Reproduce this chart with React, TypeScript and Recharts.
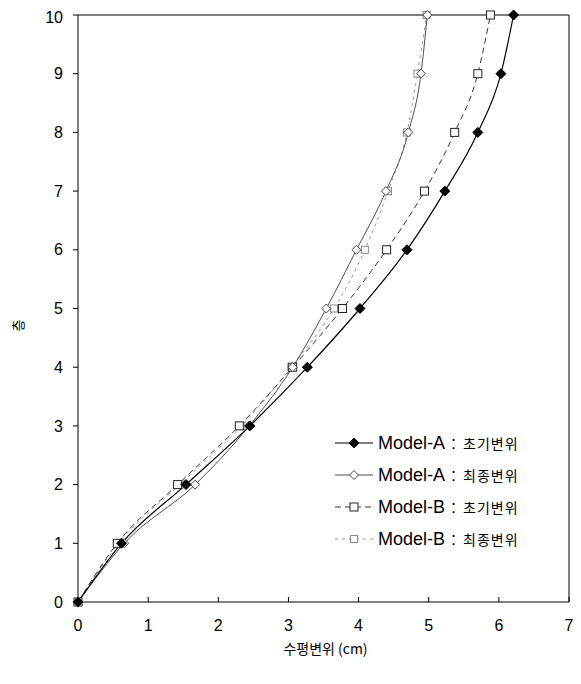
import { Legend, Line, LineChart, ReferenceLine, XAxis, YAxis } from "recharts"

// 층 (floor) levels and horizontal displacement (cm) per series
const LEVELS: number[] = [0, 1, 2, 3, 4, 5, 6, 7, 8, 9, 10]
const X_TICKS: number[] = [0, 1, 2, 3, 4, 5, 6, 7]

const A_INITIAL: number[] = [0, 0.62, 1.54, 2.45, 3.27, 4.02, 4.69, 5.23, 5.7, 6.03, 6.21]
const A_FINAL: number[] = [0, 0.66, 1.67, 2.44, 3.06, 3.54, 3.97, 4.39, 4.71, 4.89, 4.98]
const B_INITIAL: number[] = [0, 0.56, 1.42, 2.3, 3.06, 3.77, 4.4, 4.94, 5.37, 5.7, 5.88]
const B_FINAL: number[] = [0, 0.58, 1.45, 2.33, 3.04, 3.65, 4.09, 4.42, 4.69, 4.84, 4.97]

const SERIES_NAMES: string[] = [
	"Model-A : 초기변위",
	"Model-A : 최종변위",
	"Model-B : 초기변위",
	"Model-B : 최종변위",
]

type Marker = "filledDiamond" | "openDiamond" | "openSquare" | "graySquare"

interface ISeries {
	key: string
	name: string
	values: number[]
	stroke: string
	width: number
	dash?: string
	marker: Marker
}

const SERIES: ISeries[] = [
	{ key: "aInit", name: SERIES_NAMES[0], values: A_INITIAL, stroke: "#000", width: 1.2, marker: "filledDiamond" },
	{ key: "aFinal", name: SERIES_NAMES[1], values: A_FINAL, stroke: "#3a3a3a", width: 0.9, marker: "openDiamond" },
	{ key: "bInit", name: SERIES_NAMES[2], values: B_INITIAL, stroke: "#222", width: 0.9, dash: "6 4", marker: "openSquare" },
	{ key: "bFinal", name: SERIES_NAMES[3], values: B_FINAL, stroke: "#8a8a8a", width: 0.9, dash: "3 4", marker: "graySquare" },
]

const toPoints = (xs: number[]) => xs.map((x, i) => ({ x, y: LEVELS[i] }))

const FONT = "'Liberation Sans', Arial, 'Noto Sans CJK KR', sans-serif"
const KFONT = "'Noto Sans CJK KR', 'Liberation Sans', sans-serif"

const drawMarker = (kind: Marker, cx: number, cy: number, key?: string | number) => {
	switch (kind) {
		case "filledDiamond":
			return <polygon key={key} points={`${cx},${cy - 5} ${cx + 5},${cy} ${cx},${cy + 5} ${cx - 5},${cy}`} fill="#000" stroke="#000" />
		case "openDiamond":
			return <polygon key={key} points={`${cx},${cy - 4.5} ${cx + 4.5},${cy} ${cx},${cy + 4.5} ${cx - 4.5},${cy}`} fill="#fff" stroke="#444" />
		case "openSquare":
			return <rect key={key} x={cx - 4} y={cy - 4} width={8} height={8} fill="#fff" stroke="#222" />
		default:
			return <rect key={key} x={cx - 3.5} y={cy - 3.5} width={7} height={7} fill="#fff" stroke="#8a8a8a" />
	}
}

const LegendBox = () => (
	<svg width={240} height={130} style={{ display: "block" }}>
		{SERIES.map((s, i) => {
			const y = 15 + i * 32
			const [model, kind] = s.name.split(" : ")
			return (
				<g key={s.key}>
					<line x1={9} x2={47} y1={y} y2={y} stroke={s.stroke} strokeWidth={s.width} strokeDasharray={s.dash} />
					{drawMarker(s.marker, 28, y)}
					<text x={52} y={y} dominantBaseline="central" fontFamily={FONT} fontSize={18} fill="#000">
						{model}
						<tspan dx={6}>:</tspan>
						<tspan dx={7} fontFamily={KFONT} fontSize={14} letterSpacing={1}>{kind}</tspan>
					</text>
				</g>
			)
		})}
	</svg>
)

const App = () => {
	return (
		<LineChart width={573} height={676} margin={{ top: 7, right: 12, left: 10, bottom: 52 }}>
			<XAxis
				type="number"
				dataKey="x"
				domain={[0, 7]}
				ticks={X_TICKS}
				allowDecimals={false}
				height={30}
				tickSize={-5}
				tickMargin={23}
				stroke="#000"
				tick={{ fill: "#000", fontSize: 16, fontFamily: FONT }}
				label={{
					content: ({ viewBox }: any) => (
						<text x={viewBox.x + viewBox.width / 2 + 2} y={640} textAnchor="middle" dominantBaseline="central" fontFamily={KFONT} fontSize={14} fill="#000">
							수평변위  (cm)
						</text>
					),
				}}
			/>
			<YAxis
				type="number"
				dataKey="y"
				domain={[0, 10]}
				ticks={LEVELS}
				width={60}
				tickSize={5}
				tickMargin={10}
				stroke="#000"
				tick={{ fill: "#000", fontSize: 16, fontFamily: FONT }}
				label={{
					content: ({ viewBox }: any) => {
						const cy = viewBox.y + viewBox.height / 2 + 17
						return (
							<text x={9} y={cy} textAnchor="middle" dominantBaseline="central" transform={`rotate(-90 9 ${cy})`} fontFamily={KFONT} fontSize={13} fill="#000">
								층
							</text>
						)
					},
				}}
			/>
			<ReferenceLine y={10} stroke="#000" />
			<ReferenceLine x={7} stroke="#000" />
			{[...SERIES].reverse().map((s) => (
				<Line
					key={s.key}
					name={s.name}
					data={toPoints(s.values)}
					dataKey="y"
					type="monotone"
					stroke={s.stroke}
					strokeWidth={s.width}
					strokeDasharray={s.dash}
					dot={(p: any) => drawMarker(s.marker, p.cx, p.cy, `${s.key}-${p.index}`)}
					activeDot={false}
					isAnimationActive={false}
				/>
			))}
			<Legend
				layout="horizontal"
				verticalAlign="middle"
				align="center"
				content={() => <LegendBox />}
				wrapperStyle={{ position: "absolute", left: 318, top: 420, width: 240, height: 130 }}
			/>
		</LineChart>
	)
}

export default App
